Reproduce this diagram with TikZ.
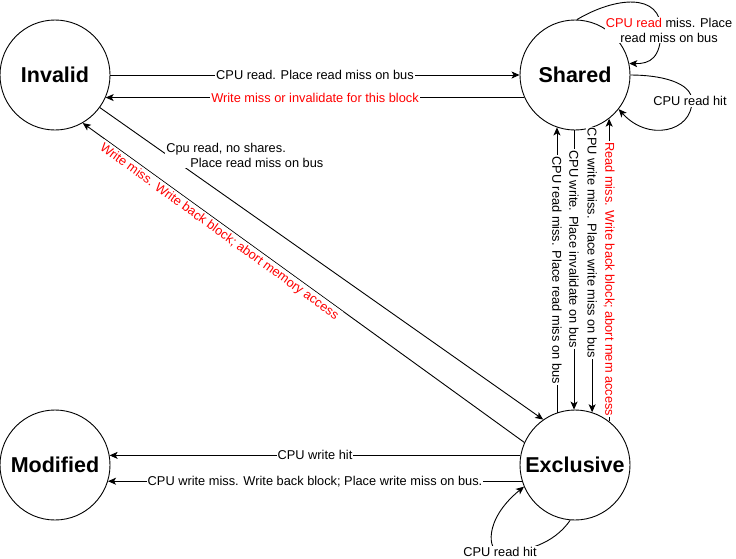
\documentclass[tikz,border=0pt]{standalone}
\usepackage{fontspec}
\setmainfont{Liberation Sans}
\usetikzlibrary{arrows.meta,positioning}

\begin{document}
\begin{tikzpicture}[x=1pt, y=-1pt,
  node distance = 520pt,
  state/.style = {circle, draw, line width=0.9pt, minimum size=110pt, inner sep=0pt, font=\fontsize{21.5}{25}\selectfont\bfseries},
  edge/.style  = {draw, line width=0.9pt, -{Stealth[length=8pt, width=7pt, inset=2pt]}},
  lbl/.style   = {fill=white, inner sep=1pt, font=\fontsize{12.8}{15}\selectfont},
  ]
  \useasboundingbox (0,0) rectangle (736,558);
  % states
  \node[state] (inv) at (55,75) {Invalid};
  \node[state, right of=inv] (sh) {Shared};
  \node[state, below of=inv, node distance=390pt] (mod) {Modified};
  \node[state, right of=mod] (exc) {Exclusive};
  % transitions
  \draw[edge] (inv.east) -- node[lbl] {CPU read. Place read miss on bus} (sh.west);
  \draw[edge] (sh.204) -- node[lbl, text=red] {Write miss or invalidate for this block} (inv.336);
  \draw[edge] (inv.324) -- node[lbl, align=left, pos=0.327, yshift=54.5pt] {Cpu read, no shares.\\\hspace*{24pt}Place read miss on bus} (exc.125);
  \draw[edge] (exc.156) -- node[lbl, text=red, sloped, below, pos=0.68, inner sep=2pt] {Write miss. Write back block; abort memory access} (inv.300);
  \draw[edge] (exc.170) -- node[lbl] {CPU write hit} (mod.10);
  \draw[edge] (exc.197) -- node[lbl] {CPU write miss. Write back block; Place write miss on bus.} (mod.343);
  \draw[edge] (exc.109) -- node[lbl, rotate=-90] {CPU read miss. Place read miss on bus} (sh.251);
  \draw[edge] (sh.269) -- node[lbl, rotate=-90, pos=0.425] {CPU write. Place invalidate on bus} (exc.91);
  \draw[edge] (sh.288) -- node[lbl, rotate=-90, pos=0.405] {CPU write miss. Place write miss on bus} (exc.72);
  \draw[edge] (exc.52) -- node[lbl, rotate=-90, pos=0.47, text=red] {Read miss. Write back block; abort mem access} (sh.308);
  % loops
  \draw[edge] (sh.88) .. controls (615,-3) and (661,-8) .. (661,30)
    node[lbl, align=center, xshift=8pt] {\textcolor{red}{CPU read} miss. Place\\read miss on bus}
    .. controls (661,58) and (650,64) .. (sh.12);
  \draw[edge] (sh.east) .. controls (660,75) and (692,82) .. (692,101)
    node[lbl, xshift=-2pt] {CPU read hit}
    .. controls (692,132) and (648,142) .. (sh.322);
  \draw[edge] (exc.265) .. controls (558,538) and (535,552) .. (500,552)
    node[lbl] {CPU read hit}
    .. controls (488,552) and (483,520) .. (exc.203);
\end{tikzpicture}
\end{document}
